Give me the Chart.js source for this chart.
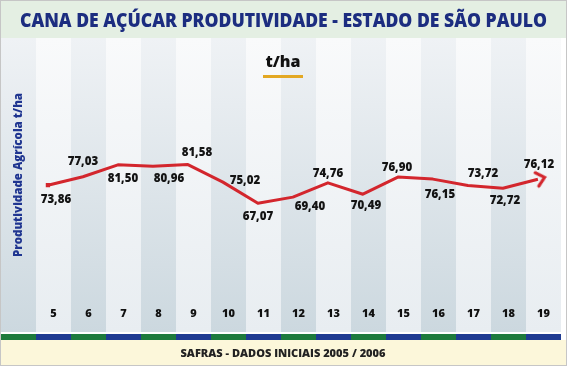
<!DOCTYPE html>
<html>
<head>
<meta charset="utf-8">
<script src="https://cdn.jsdelivr.net/npm/chart.js@4.4.1/dist/chart.umd.min.js"></script>
<style>
  body { margin: 0; background: #fff; }
  #wrap { width: 567px; height: 366px; }
</style>
</head>
<body>
<div id="wrap"><canvas id="myChart" width="567" height="366"></canvas></div>
<script>
'use strict'

//Safras (eixo x)
const safras = ['5', '6', '7', '8', '9', '10', '11', '12', '13', '14', '15', '16', '17', '18', '19'];
//Produtividade agricola t/ha
const produtividade = [73.86, 77.03, 81.50, 80.96, 81.58, 75.02, 67.07, 69.40, 74.76, 70.49, 76.90, 76.15, 73.72, 72.72, 76.12];

//Textos
const titulo = 'CANA DE AÇÚCAR PRODUTIVIDADE - ESTADO DE SÃO PAULO';
const unidade = 't/ha';
const tituloEixoY = 'Produtividade Agrícola t/ha';
const rodape = 'SAFRAS - DADOS INICIAIS 2005 / 2006';

//Deslocamento dos rotulos em relacao ao ponto (px)
const posRotulos = [[8, 15], [0, -15], [5, 14], [16, 12], [9, -12], [22, -1], [0, 13], [17, 10],
                    [0, -9], [3, 12], [-1, -9], [7, 16], [15, -12], [2, 12], [1, -14]];

const vermelho = '#d3262d';

//seta no fim da linha
function criaSeta() {
    const c = document.createElement('canvas');
    c.width = 26;
    c.height = 26;
    const g = c.getContext('2d');
    g.strokeStyle = vermelho;
    g.lineWidth = 3;
    g.lineCap = 'round';
    g.lineJoin = 'miter';
    g.beginPath();
    g.moveTo(12, 6);
    g.lineTo(20, 13);
    g.lineTo(12, 20);
    g.stroke();
    return c;
}
const seta = criaSeta();

function textoAjustado(ctx, txt, x, y, largura) {
    const w = ctx.measureText(txt).width;
    ctx.save();
    ctx.translate(x, y);
    ctx.scale(largura / w, 1);
    ctx.fillText(txt, 0, 0);
    ctx.restore();
}

function gradiente(ctx, top, bottom, c1, c2) {
    const g = ctx.createLinearGradient(0, top, 0, bottom);
    g.addColorStop(0, c1);
    g.addColorStop(1, c2);
    return g;
}

//Fundo, colunas, titulos
const fundo = {
    id: 'fundo',
    beforeDraw(chart) {
        const ctx = chart.ctx;
        const x = chart.scales.x;
        const colW = x.width / safras.length;
        const top = 38, bottom = 332;
        const escura = gradiente(ctx, top, bottom, '#eff2f5', '#ccd8df');
        const clara = gradiente(ctx, top, bottom, '#f9fafb', '#e8edf1');

        ctx.save();
        ctx.fillStyle = '#ffffff';
        ctx.fillRect(0, 0, chart.width, chart.height);

        //coluna da esquerda
        ctx.fillStyle = escura;
        ctx.fillRect(0, top, x.left, bottom - top);
        ctx.fillStyle = '#1d7a3c';
        ctx.fillRect(0, 334, x.left, 6);

        safras.forEach((s, i) => {
            const cx = x.getPixelForValue(i);
            const esc = i % 2 === 1;
            ctx.fillStyle = esc ? escura : clara;
            ctx.fillRect(cx - colW / 2, top, colW, bottom - top);
            ctx.fillStyle = esc ? '#1d7a3c' : '#1f3b92';
            ctx.fillRect(cx - colW / 2, 334, colW, 6);
        });

        //faixa do titulo
        ctx.fillStyle = '#e4efe3';
        ctx.fillRect(0, 0, chart.width, top);
        ctx.fillStyle = '#1c2d80';
        ctx.font = '800 19px "Open Sans"';
        ctx.textAlign = 'center';
        ctx.textBaseline = 'middle';
        textoAjustado(ctx, titulo, 283.5, 22, 527);

        //unidade
        ctx.fillStyle = '#111111';
        ctx.font = '800 16px "Open Sans"';
        ctx.fillText(unidade, 283, 62);
        ctx.fillStyle = '#e3a823';
        ctx.fillRect(263, 75, 40, 3);

        //titulo eixo y
        ctx.save();
        ctx.translate(18, 175);
        ctx.rotate(-Math.PI / 2);
        ctx.fillStyle = '#1f3590';
        ctx.font = '800 13px "Open Sans"';
        textoAjustado(ctx, tituloEixoY, 0, 0, 164);
        ctx.restore();

        //rodape
        ctx.fillStyle = '#fcf7da';
        ctx.fillRect(0, 340, chart.width, chart.height - 340);
        ctx.fillStyle = '#222222';
        ctx.font = '800 11px "Open Sans"';
        textoAjustado(ctx, rodape, 283, 354, 205);

        //borda
        ctx.strokeStyle = '#c6c6c6';
        ctx.lineWidth = 1;
        ctx.strokeRect(0.5, 0.5, chart.width - 1, chart.height - 1);
        ctx.restore();
    }
};

//Rotulos dos valores
const rotulos = {
    id: 'rotulos',
    afterDatasetsDraw(chart) {
        const ctx = chart.ctx;
        const meta = chart.getDatasetMeta(0);
        ctx.save();
        ctx.fillStyle = '#141414';
        ctx.font = '800 11.5px "Open Sans"';
        ctx.textAlign = 'center';
        ctx.textBaseline = 'middle';
        meta.data.forEach((pt, i) => {
            const txt = produtividade[i].toFixed(2).replace('.', ',');
            ctx.fillText(txt, pt.x + posRotulos[i][0], pt.y + posRotulos[i][1]);
        });
        ctx.restore();
    }
};

function chartResults() {
    const n = produtividade.length;
    const ctx = document.getElementById('myChart').getContext('2d');
    const myChart = new Chart(ctx, {
        type: 'line',
        data: {
            labels: safras,
            datasets: [{
                label: 'Produtividade',
                data: produtividade.map((v, i) => ({ x: Number(safras[i]), y: v })),
                xAxisID: 'xl',
                borderColor: vermelho,
                backgroundColor: vermelho,
                borderWidth: 3,
                borderJoinStyle: 'round',
                tension: 0,
                pointStyle: produtividade.map((v, i) => i === 0 ? 'rect' : (i === n - 1 ? seta : 'circle')),
                pointRadius: produtividade.map((v, i) => i === 0 ? 3 : (i === n - 1 ? 6 : 0)),
                pointRotation: produtividade.map((v, i) => i === n - 1 ? -15 : 0),
                pointBorderWidth: 0
            }]
        },
        options: {
            responsive: false,
            animation: false,
            layout: {
                padding: { top: 40, bottom: 37, left: 36, right: 0 }
            },
            plugins: {
                legend: { display: false },
                title: { display: false },
                tooltip: { enabled: false }
            },
            scales: {
                x: {
                    type: 'category',
                    offset: true,
                    grid: { display: false, drawTicks: false },
                    border: { display: false },
                    ticks: {
                        color: '#111111',
                        padding: 9,
                        font: { family: '"Open Sans"', size: 11, weight: '800' }
                    }
                },
                xl: {
                    type: 'linear',
                    display: false,
                    min: 4.66,
                    max: 19.66
                },
                y: {
                    display: false,
                    min: 31.65,
                    max: 128.3
                }
            }
        },
        plugins: [fundo, rotulos]
    });
}

//Run chart function
chartResults();
</script>
</body>
</html>
